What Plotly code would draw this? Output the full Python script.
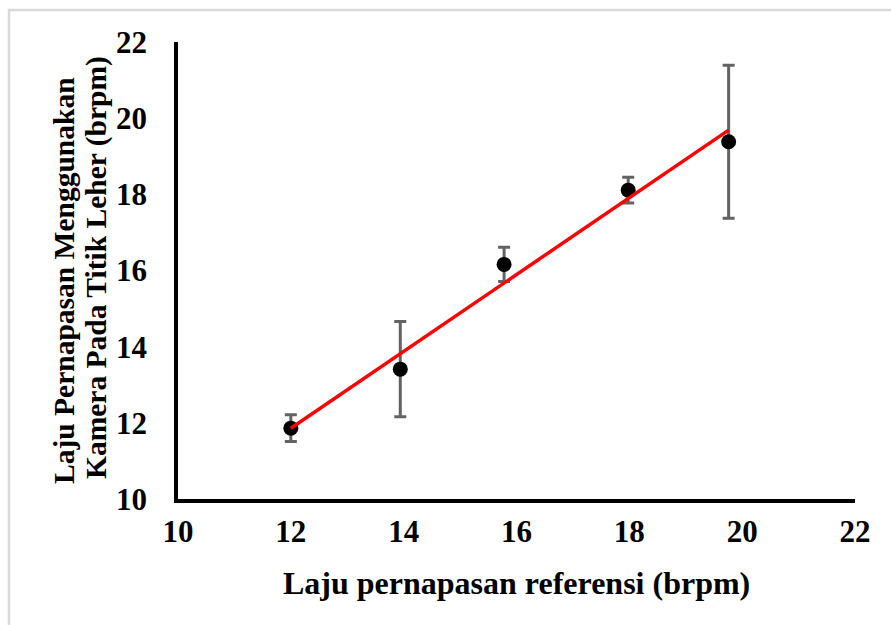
import numpy as np
import plotly.graph_objects as go

# Reference breathing rate vs. camera-based rate (neck point), mean ± SD
ref_rate = [12.0, 13.94, 15.78, 17.98, 19.76]
cam_rate = [11.86, 13.41, 16.16, 18.11, 19.38]
cam_sd = [0.35, 1.25, 0.45, 0.34, 2.01]
tick_vals = [10, 12, 14, 16, 18, 20, 22]

x_title = "Laju pernapasan referensi (brpm)"
y_title_1 = "Laju Pernapasan Menggunakan"
y_title_2 = "Kamera Pada Titik Leher (brpm)"

# Linear trendline through the measurements
slope, intercept = np.polyfit(ref_rate, cam_rate, 1)
fit_x = [min(ref_rate), max(ref_rate)]
fit_y = [slope * v + intercept for v in fit_x]

W, H = 891, 625
L, R, T, B = 178, 36, 42, 126
pw, ph = W - L - R, H - T - B


def px(xp):
    return (xp - L) / pw


def py(yp):
    return 1 - (yp - T) / ph


FONT = "Liberation Serif, Times New Roman, serif"

fig = go.Figure()
fig.add_trace(go.Scatter(
    x=ref_rate, y=cam_rate, mode="markers",
    marker=dict(color="black", size=15),
    error_y=dict(type="data", array=cam_sd, visible=True,
                 color="#636363", thickness=3, width=6),
    showlegend=False,
))
fig.add_trace(go.Scatter(
    x=fit_x, y=fit_y, mode="lines",
    line=dict(color="#ff0000", width=3.5),
    showlegend=False,
))

axis_common = dict(
    range=[10, 22], tickvals=tick_vals, showgrid=False, zeroline=False,
    showline=True, linecolor="black", linewidth=3.5, ticks="",
    tickfont=dict(family=FONT, size=31, color="black", weight="bold"),
)
fig.update_xaxes(**axis_common, ticklabelstandoff=2)
fig.update_yaxes(**axis_common, ticklabelstandoff=21)

annotations = [
    dict(text=x_title, x=px(516.5), y=py(583), xref="paper", yref="paper",
         showarrow=False, xanchor="center", yanchor="middle",
         font=dict(family=FONT, size=32, color="black", weight="bold")),
    dict(text=y_title_1, x=px(64), y=py(281), xref="paper", yref="paper",
         showarrow=False, xanchor="center", yanchor="middle", textangle=-90,
         font=dict(family=FONT, size=29.5, color="black", weight="bold")),
    dict(text=y_title_2, x=px(96), y=py(268), xref="paper", yref="paper",
         showarrow=False, xanchor="center", yanchor="middle", textangle=-90,
         font=dict(family=FONT, size=29.5, color="black", weight="bold")),
]

frame = dict(type="rect", xref="paper", yref="paper",
             x0=px(9), y0=py(640), x1=px(905), y1=py(10),
             line=dict(color="#d9d9d9", width=2.5), fillcolor="rgba(0,0,0,0)",
             layer="below")

fig.update_layout(
    width=W, height=H,
    margin=dict(l=L, r=R, t=T, b=B),
    paper_bgcolor="white", plot_bgcolor="white",
    annotations=annotations, shapes=[frame],
)

fig.write_html("out.html")
